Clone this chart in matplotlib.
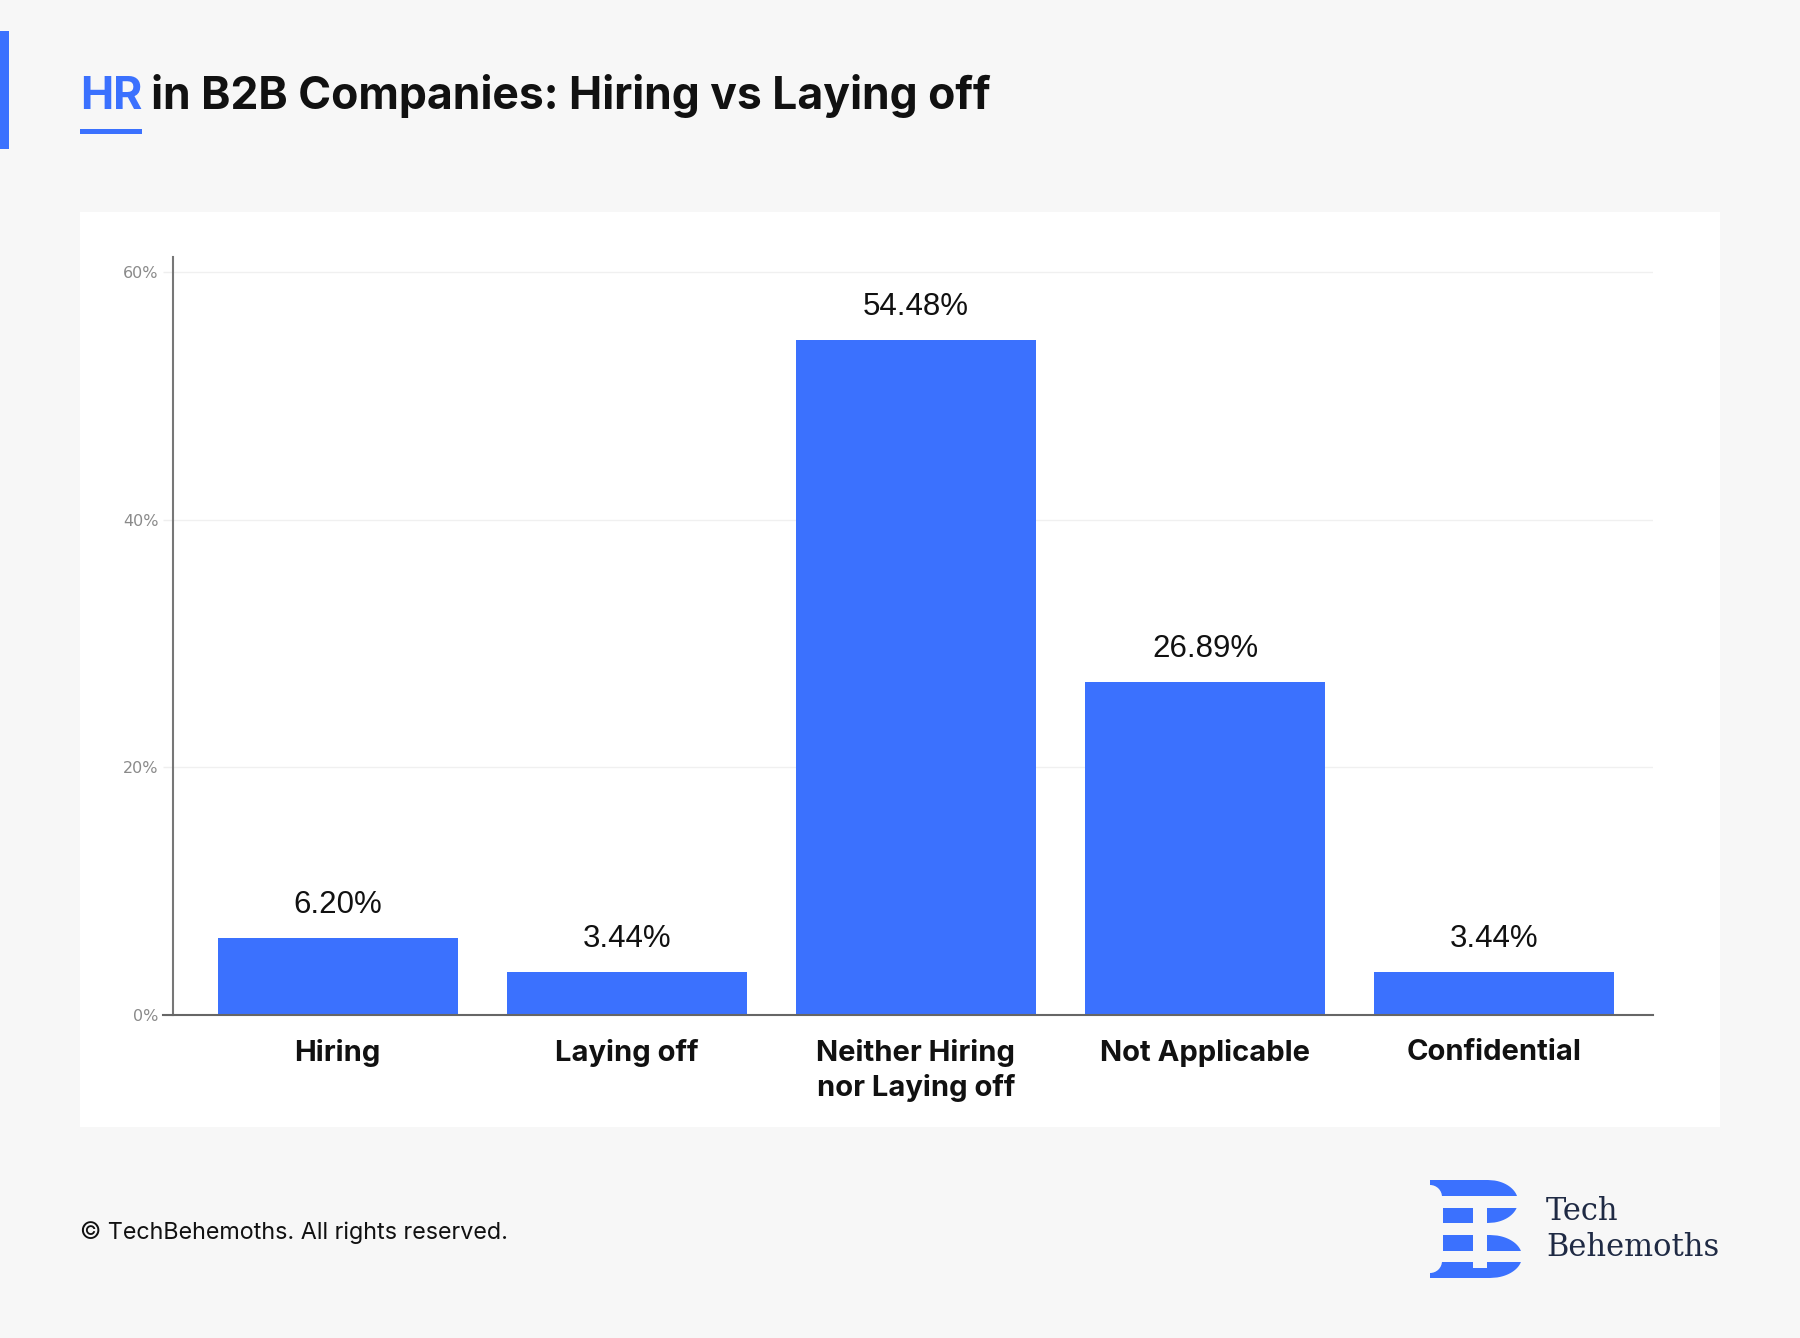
import numpy as np
import matplotlib
matplotlib.use("Agg")
import matplotlib.pyplot as plt
from matplotlib.patches import Rectangle, Polygon, Circle

# ---- data ----
categories = ["Hiring", "Laying off", "Neither Hiring\nnor Laying off", "Not Applicable", "Confidential"]
values = [6.20, 3.44, 54.48, 26.89, 3.44]
value_labels = ["6.20%", "3.44%", "54.48%", "26.89%", "3.44%"]
yticks = [0, 20, 40, 60]
ytick_labels = ["0%", "20%", "40%", "60%"]

BLUE = "#3b71fe"
BG = "#f7f7f7"
W, H = 1800, 1338

fig = plt.figure(figsize=(18, 13.38), dpi=100, facecolor=BG)

# background / decoration axes in pixel coordinates
bg = fig.add_axes([0, 0, 1, 1], zorder=0)
bg.set_xlim(0, W)
bg.set_ylim(H, 0)
bg.axis("off")
bg.add_patch(Rectangle((80, 212), 1640, 915, facecolor="white", edgecolor="none"))
bg.add_patch(Rectangle((0, 31), 9, 118, facecolor=BLUE, edgecolor="none"))

# main chart axes
ax = fig.add_axes([173 / W, 1 - 1015 / H, (1653 - 173) / W, (1015 - 257) / H], zorder=1)
ax.set_facecolor("none")
x = np.arange(len(categories))
ax.bar(x, values, width=0.83, color=BLUE, zorder=3)
ax.set_xlim(-0.57, 4.55)
ax.set_ylim(0, 61.2)

for xi, v, lab in zip(x, values, value_labels):
    ax.annotate(lab, (xi, v), xytext=(0, 24), textcoords="offset points",
                ha="center", va="center", fontsize=22.5, color="#111111",
                family=["Liberation Sans", "DejaVu Sans"])

ax.set_yticks(yticks)
ax.set_yticklabels(ytick_labels, fontsize=11.5, color="#8a8a8a", family="DejaVu Sans")
ax.tick_params(axis="y", length=7, width=1, color="#eeeeee", pad=3.5)
ax.grid(axis="y", color="#f0f0f0", linewidth=1, zorder=0)
ax.set_xticks(x)
ax.set_xticklabels(categories, fontsize=21, fontweight="bold", color="#111111",
                   family=["Inter", "DejaVu Sans"], linespacing=1.32)
ax.tick_params(axis="x", length=0, pad=17)

for s in ["top", "right", "bottom"]:
    ax.spines[s].set_visible(False)
ax.spines["left"].set_color("#777777")
ax.spines["left"].set_linewidth(1.5)
ax.plot([-10 / 1480, 1], [0, 0], transform=ax.get_yaxis_transform(), color="#666666",
        linewidth=1.5, clip_on=False, zorder=4)

# title
t1 = bg.text(80, 109, "HR", fontsize=32, fontweight="bold", color=BLUE,
             family=["Inter", "DejaVu Sans"], ha="left", va="baseline")
fig.canvas.draw()
r = fig.canvas.get_renderer()
bb = t1.get_window_extent(renderer=r)
bg.text(bb.x1 + 9, 109, "in B2B Companies: Hiring vs Laying off", fontsize=32,
        fontweight="bold", color="#111111", family=["Inter", "DejaVu Sans"],
        ha="left", va="baseline")
bg.add_patch(Rectangle((80, 129), bb.x1 - 80, 5, facecolor=BLUE, edgecolor="none"))

# footer
bg.text(80, 1233, "© TechBehemoths. All rights reserved.", fontsize=16.8,
        color="#111111", family=["Inter", "DejaVu Sans"], ha="left", va="center")

# logo
def stripe(x0, y0, y1, cx, cy, a, b, n=30):
    ys = np.linspace(y0, y1, n)
    xs = cx + a * np.sqrt(np.clip(1 - ((ys - cy) / b) ** 2, 0, 1))
    pts = [(x0, y0)] + list(zip(xs, ys)) + [(x0, y1)]
    return Polygon(pts, closed=True, facecolor=BLUE, edgecolor="none")

cy1, cy2 = 1201.5, 1256.5
bg.add_patch(stripe(1430, 1180, 1196, 1488, cy1, 30, 21.5))
bg.add_patch(Rectangle((1443, 1208), 30, 15, facecolor=BLUE, edgecolor="none"))
bg.add_patch(stripe(1487, 1208, 1223, 1488, cy1, 30, 21.5))
bg.add_patch(Rectangle((1443, 1235), 30, 16, facecolor=BLUE, edgecolor="none"))
bg.add_patch(stripe(1487, 1235, 1251, 1490, cy2, 32, 21.5))
bg.add_patch(stripe(1430, 1262, 1278, 1490, cy2, 32, 21.5))
bg.add_patch(Rectangle((1473, 1261), 14, 7, facecolor=BG, edgecolor="none"))
bg.add_patch(Circle((1430, 1197), 12, facecolor=BG, edgecolor="none"))
bg.add_patch(Circle((1430, 1261), 12, facecolor=BG, edgecolor="none"))

bg.text(1546, 1212, "Tech", fontsize=22, color="#1f2a44", family="DejaVu Serif",
        ha="left", va="center")
bg.text(1546, 1248, "Behemoths", fontsize=22, color="#1f2a44", family="DejaVu Serif",
        ha="left", va="center")

fig.savefig("out.png", dpi=100, facecolor=BG)
